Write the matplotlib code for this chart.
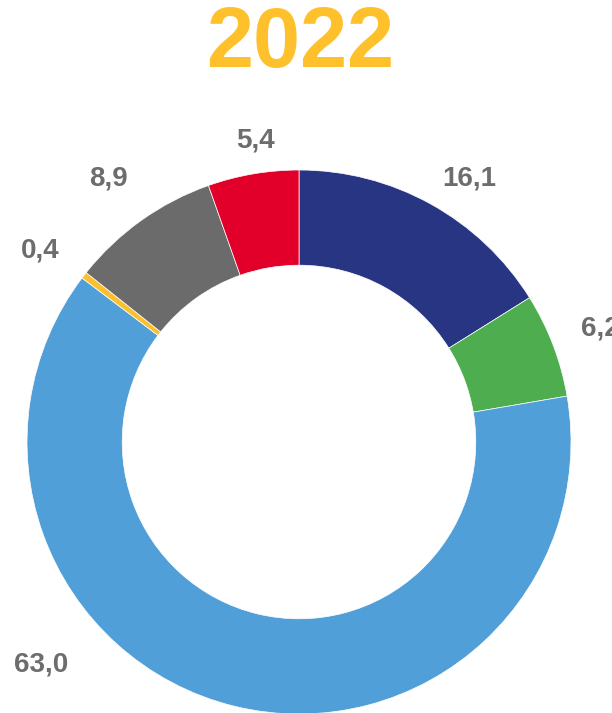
import matplotlib.pyplot as plt

plt.rcParams['font.family'] = ['Liberation Sans', 'DejaVu Sans']

title = '2022'
values = [16.1, 6.2, 63.0, 0.4, 8.9, 5.4]
labels = ['16,1', '6,2', '63,0', '0,4', '8,9', '5,4']
colors = ['#283583', '#4EAE4F', '#519FD8', '#FBC02D', '#6B6B6B', '#E2002A']

# label centres in pixel coords (y from top)
label_pos = [(469, 179), (600, 329), (41, 664), (40, 251), (108, 179), (255, 141)]

W, H = 612, 713
fig = plt.figure(figsize=(W / 100, H / 100), dpi=100)
ax = fig.add_axes([0, 0, 1, 1])

cx, cy, r = 299, H - 442, 272
ax.pie(values, colors=colors, startangle=90, counterclock=False,
       center=(cx, cy), radius=r, frame=True,
       wedgeprops=dict(width=r * 0.35, edgecolor='white', linewidth=0.5))
ax.set_xlim(0, W)
ax.set_ylim(0, H)
ax.set_aspect('equal')
ax.axis('off')

for lab, (x, y) in zip(labels, label_pos):
    ax.text(x, H - y, lab, ha='center', va='center', fontsize=20,
            fontweight='bold', color='#6D6D6D')

ax.text(300, H - 45, title, ha='center', va='center', fontsize=61,
        fontweight='bold', color='#FFC12B')

fig.savefig('out.png', dpi=100)
